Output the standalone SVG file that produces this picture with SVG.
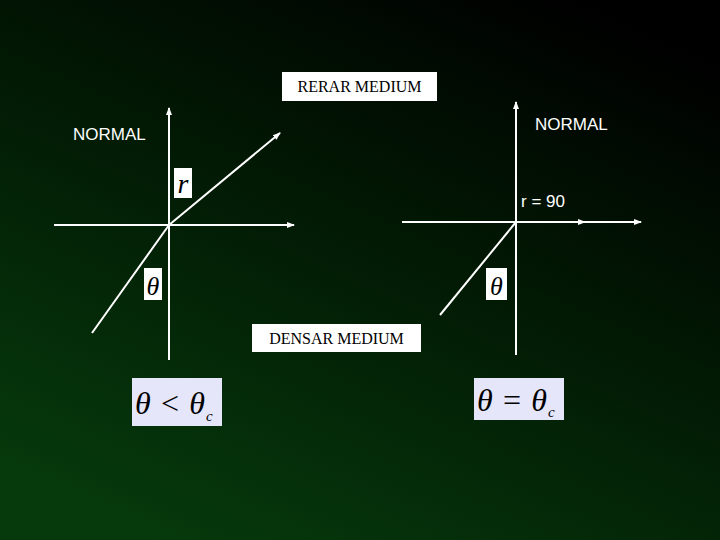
<svg xmlns="http://www.w3.org/2000/svg" width="720" height="540" viewBox="0 0 720 540">
<defs>
<linearGradient id="bg" x1="0.8" y1="0" x2="0.2" y2="1">
<stop offset="0" stop-color="#000000"/>
<stop offset="0.45" stop-color="#021a04"/>
<stop offset="1" stop-color="#063a0c"/>
</linearGradient>
<marker id="ah" markerWidth="8" markerHeight="8" refX="7" refY="4" orient="auto" markerUnits="userSpaceOnUse"><path d="M0,1 L8,4 L0,7 Z" fill="#fff"/></marker>
<style>
.ln{stroke:#fff;stroke-width:2;fill:none}
.box{fill:#fff}
.fbox{fill:#e6e6fa}
.sans{font-family:"Liberation Sans",Arial,sans-serif;font-size:17px;fill:#fff}
.serif{font-family:"Liberation Serif","Times New Roman",serif;font-size:16px;fill:#000}
.math{font-family:"Liberation Serif","Times New Roman",serif;font-style:italic;fill:#000}
</style>
</defs>
<rect width="720" height="540" fill="url(#bg)"/>
<g id="connectors">
<line class="ln" x1="169" y1="360" x2="169" y2="108" marker-end="url(#ah)"/>
<line class="ln" x1="54" y1="225" x2="294" y2="225" marker-end="url(#ah)"/>
<line class="ln" x1="92" y1="333" x2="169" y2="225"/>
<line class="ln" x1="169" y1="225" x2="280" y2="133" marker-end="url(#ah)"/>
<line class="ln" x1="516" y1="355" x2="516" y2="102" marker-end="url(#ah)"/>
<line class="ln" x1="402" y1="222" x2="585" y2="222" marker-end="url(#ah)"/>
<line class="ln" x1="585" y1="222" x2="641" y2="222" marker-end="url(#ah)"/>
<line class="ln" x1="440" y1="315" x2="516" y2="222"/>
</g>
<g id="rerar"><rect class="box" x="282" y="72" width="155" height="29"/><text class="serif" x="359.5" y="92" text-anchor="middle">RERAR MEDIUM</text></g>
<g id="densar"><rect class="box" x="252" y="324" width="169" height="28"/><text class="serif" x="336.5" y="344" text-anchor="middle">DENSAR MEDIUM</text></g>
<g id="normal1"><text class="sans" x="73" y="140">NORMAL</text></g>
<g id="normal2"><text class="sans" x="535" y="130">NORMAL</text></g>
<g id="r90"><text class="sans" x="521" y="207">r = 90</text></g>
<g id="rbox"><rect class="box" x="174" y="168" width="18" height="30"/><text class="math" x="183" y="193" font-size="28" text-anchor="middle">r</text></g>
<g id="theta1"><rect class="box" x="144" y="268" width="18" height="32"/><text class="math" x="153" y="295" font-size="26" text-anchor="middle">θ</text></g>
<g id="theta2"><rect class="box" x="486" y="268" width="21" height="32"/><text class="math" x="496.5" y="295" font-size="26" text-anchor="middle">θ</text></g>
<g id="f1"><rect class="fbox" x="132" y="378" width="90" height="48"/><text class="math" x="135" y="414" font-size="32" textLength="70">θ<tspan font-style="normal">&lt;</tspan>θ</text><text class="math" x="206" y="421" font-size="15">c</text></g>
<g id="f2"><rect class="fbox" x="474" y="378" width="90" height="42"/><text class="math" x="477" y="411" font-size="32" textLength="70">θ<tspan font-style="normal">=</tspan>θ</text><text class="math" x="548" y="417" font-size="15">c</text></g>
</svg>
